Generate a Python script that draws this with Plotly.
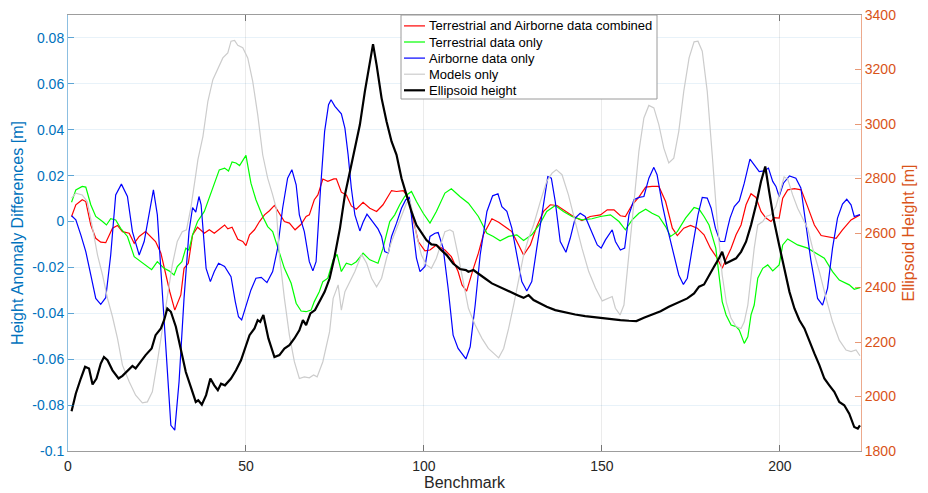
import plotly.graph_objects as go

# ---- Height anomaly differences along the benchmark line [m] ----
combined_x = [1.0, 2.2, 4.0, 5.0, 6.4, 7.8, 9.2, 10.6, 12.5, 13.9, 15.3, 17.2, 18.6, 20.0, 21.8, 23.2, 24.6,
              26.1, 27.5, 28.6, 30.0, 31.7, 32.6, 33.8, 35.0, 36.4, 38.3, 39.7, 41.1, 42.5, 44.0, 44.9, 46.1,
              47.7, 49.1, 50.0, 51.0, 52.4, 53.8, 55.2, 56.6, 58.0, 59.4, 60.8, 62.2, 63.8, 65.5, 66.9, 67.8,
              69.2, 70.2, 71.6, 73.0, 74.7, 75.4, 76.8, 78.2, 79.6, 81.0, 82.9, 84.8, 86.7, 88.5, 90.9, 92.3,
              94.2, 95.6, 97.0, 98.4, 100.3, 101.7, 103.5, 105.9, 107.7, 109.6, 110.7, 112.0, 113.9, 115.3,
              116.7, 119.1, 121.0, 122.8, 124.7, 126.6, 128.0, 129.9, 131.7, 133.6, 135.5, 137.4, 139.7, 142.0,
              144.4, 146.7, 149.6, 151.5, 153.4, 155.2, 156.6, 158.5, 160.4, 162.3, 164.1, 166.0, 167.9, 169.8,
              171.2, 173.0, 174.9, 176.8, 178.7, 180.5, 182.4, 183.8, 185.0, 186.3, 187.7, 189.1, 190.5, 191.9,
              193.3, 194.7, 196.1, 197.5, 198.4, 199.8, 200.8, 202.2, 204.1, 206.0, 207.8, 209.7, 211.6, 213.4,
              215.8, 217.6, 220.0, 222.5]
combined_y = [0.0022, 0.0073, 0.0095, 0.0087, -0.0015, -0.0073, -0.0090, -0.0092, -0.0029, -0.0017, -0.0044,
              -0.0051, -0.0095, -0.0065, -0.0044, -0.0065, -0.0087, -0.0138, -0.0240, -0.0306, -0.0386, -0.0320,
              -0.0204, -0.0182, -0.0058, -0.0025, -0.0051, -0.0036, -0.0051, -0.0033, -0.0015, -0.0032, -0.0025,
              -0.0077, -0.0087, -0.0105, -0.0058, -0.0036, 0.0000, 0.0029, 0.0047, 0.0070, 0.0036, 0.0000,
              -0.0007, -0.0036, -0.0012, 0.0022, 0.0029, 0.0095, 0.0116, 0.0185, 0.0175, 0.0186, 0.0186, 0.0128,
              0.0116, 0.0068, 0.0054, 0.0084, 0.0058, 0.0044, 0.0073, 0.0135, 0.0131, 0.0135, 0.0105, 0.0015,
              -0.0087, -0.0128, -0.0124, -0.0102, -0.0124, -0.0153, -0.0218, -0.0276, -0.0303, -0.0204, -0.0138,
              -0.0058, 0.0012, -0.0003, -0.0022, -0.0044, -0.0102, -0.0146, -0.0102, -0.0022, 0.0044, 0.0073,
              0.0070, 0.0044, 0.0022, 0.0004, 0.0022, 0.0029, 0.0051, 0.0051, 0.0025, 0.0022, 0.0073, 0.0106,
              0.0150, 0.0153, 0.0153, 0.0087, -0.0029, -0.0061, -0.0029, -0.0017, -0.0029, -0.0058, -0.0116,
              -0.0160, -0.0204, -0.0160, -0.0116, -0.0058, -0.0015, 0.0073, 0.0121, 0.0105, 0.0044, 0.0015,
              0.0000, 0.0017, 0.0015, 0.0102, 0.0138, 0.0143, 0.0138, 0.0065, -0.0015, -0.0061, -0.0065, -0.0073,
              -0.0036, 0.0007, 0.0029]

terrestrial_x = [1.0, 2.2, 4.0, 5.0, 6.4, 7.8, 9.7, 10.8, 12.0, 13.4, 14.8, 16.7, 18.6, 20.4, 22.3, 23.5, 25.1,
                 27.0, 28.4, 29.8, 30.7, 32.0, 33.1, 34.0, 35.0, 36.4, 38.3, 39.7, 41.1, 42.5, 44.0, 45.1, 46.1,
                 47.2, 48.2, 50.0, 51.4, 52.8, 54.7, 56.1, 57.5, 59.0, 60.8, 62.7, 64.1, 65.5, 66.9, 68.3, 69.2,
                 70.6, 71.6, 73.0, 74.5, 75.6, 76.8, 78.2, 79.6, 81.0, 82.9, 84.8, 87.1, 88.5, 90.4, 91.8, 93.2,
                 94.6, 96.5, 97.9, 99.8, 101.7, 103.5, 105.9, 107.7, 110.1, 112.5, 115.3, 117.7, 119.5, 121.4,
                 123.8, 126.1, 128.0, 130.3, 132.7, 134.5, 136.9, 139.2, 141.6, 144.4, 147.2, 149.6, 152.4, 154.8,
                 156.6, 158.5, 160.4, 162.3, 164.1, 166.0, 167.9, 169.3, 171.2, 173.5, 175.9, 177.3, 178.7, 180.1,
                 182.0, 183.8, 184.9, 186.3, 187.7, 188.6, 190.0, 191.0, 191.9, 192.8, 193.8, 195.2, 196.6, 198.0,
                 199.8, 200.8, 202.2, 205.0, 207.8, 210.1, 212.5, 214.8, 216.7, 219.5, 220.9, 222.5]
terrestrial_y = [0.0084, 0.0138, 0.0153, 0.0150, 0.0073, 0.0022, 0.0000, -0.0015, 0.0012, 0.0007, -0.0030,
                 -0.0065, -0.0153, -0.0175, -0.0196, -0.0210, -0.0175, -0.0204, -0.0215, -0.0233, -0.0196, -0.0175,
                 -0.0116, -0.0124, -0.0058, 0.0000, 0.0044, 0.0102, 0.0160, 0.0225, 0.0233, 0.0220, 0.0260, 0.0255,
                 0.0244, 0.0288, 0.0167, 0.0095, 0.0022, -0.0022, -0.0044, -0.0116, -0.0204, -0.0269, -0.0356,
                 -0.0390, -0.0393, -0.0386, -0.0349, -0.0306, -0.0262, -0.0247, -0.0167, -0.0143, -0.0218, -0.0182,
                 -0.0189, -0.0175, -0.0138, -0.0167, -0.0182, -0.0116, 0.0000, 0.0029, 0.0073, 0.0109, 0.0131,
                 0.0087, 0.0036, -0.0007, 0.0044, 0.0124, 0.0143, 0.0109, 0.0080, 0.0022, -0.0051, -0.0065, -0.0084,
                 -0.0065, -0.0058, -0.0083, -0.0058, -0.0007, 0.0044, 0.0070, 0.0044, 0.0022, 0.0007, 0.0012,
                 0.0022, 0.0029, 0.0000, -0.0036, 0.0007, 0.0036, 0.0054, 0.0036, 0.0022, -0.0022, -0.0065, -0.0044,
                 0.0015, 0.0061, 0.0054, 0.0022, -0.0015, -0.0116, -0.0349, -0.0407, -0.0451, -0.0458, -0.0473,
                 -0.0531, -0.0502, -0.0407, -0.0364, -0.0247, -0.0204, -0.0189, -0.0215, -0.0189, -0.0102, -0.0076,
                 -0.0102, -0.0116, -0.0138, -0.0160, -0.0218, -0.0255, -0.0276, -0.0295, -0.0288]

airborne_x = [1.0, 2.2, 3.6, 5.0, 6.4, 7.8, 9.2, 10.6, 12.0, 13.4, 15.0, 16.7, 18.1, 20.0, 21.4, 22.8, 24.0,
              25.1, 26.1, 27.5, 28.9, 30.0, 31.2, 32.6, 34.0, 35.0, 35.9, 36.8, 37.4, 38.8, 40.0, 41.1, 42.3,
              44.0, 45.8, 47.0, 47.9, 48.8, 50.0, 51.4, 52.8, 54.3, 55.9, 57.5, 58.9, 60.3, 61.7, 62.9, 64.1,
              65.0, 66.4, 67.8, 68.8, 69.7, 70.9, 72.1, 73.2, 73.9, 75.0, 76.8, 77.8, 78.7, 79.6, 80.6, 82.0,
              82.9, 84.0, 85.5, 87.1, 88.1, 89.0, 90.0, 90.9, 92.3, 93.7, 94.9, 95.9, 97.0, 97.9, 98.9, 100.3,
              101.7, 103.1, 104.0, 105.4, 106.8, 108.2, 109.6, 111.2, 111.8, 113.0, 114.4, 115.8, 117.7, 119.3,
              120.8, 121.9, 123.3, 124.7, 126.1, 127.5, 128.9, 130.3, 131.7, 133.6, 134.8, 135.8, 136.9, 138.3,
              139.9, 141.1, 142.5, 143.9, 145.3, 146.7, 147.6, 148.7, 149.8, 151.0, 152.9, 153.8, 155.2, 156.4,
              157.6, 159.0, 160.4, 161.8, 163.2, 164.6, 165.5, 167.0, 168.4, 170.2, 171.6, 172.9, 174.0, 175.4,
              177.0, 178.2, 179.6, 180.7, 181.9, 183.2, 184.5, 185.3, 186.0, 187.2, 188.6, 190.0, 191.6, 192.8,
              194.2, 195.6, 196.8, 198.0, 198.9, 199.8, 201.0, 202.7, 204.5, 205.9, 207.3, 208.7, 210.6, 212.0,
              213.4, 214.8, 216.2, 217.6, 218.8, 220.0, 220.9, 222.5]
airborne_y = [0.0025, 0.0007, -0.0058, -0.0131, -0.0233, -0.0335, -0.0361, -0.0332, -0.0146, 0.0116, 0.0163,
              0.0109, -0.0044, -0.0146, -0.0087, 0.0044, 0.0138, 0.0029, -0.0204, -0.0553, -0.0888, -0.0909,
              -0.0698, -0.0335, -0.0044, 0.0061, 0.0041, 0.0109, 0.0073, -0.0204, -0.0262, -0.0218, -0.0182,
              -0.0196, -0.0240, -0.0349, -0.0415, -0.0429, -0.0364, -0.0298, -0.0247, -0.0243, -0.0266, -0.0218,
              -0.0116, 0.0058, 0.0189, 0.0226, 0.0160, 0.0029, -0.0044, -0.0175, -0.0215, -0.0175, 0.0131,
              0.0393, 0.0509, 0.0531, 0.0502, 0.0469, 0.0407, 0.0291, 0.0146, 0.0029, -0.0041, -0.0003, 0.0032,
              0.0000, -0.0032, -0.0065, -0.0131, -0.0138, -0.0065, -0.0007, 0.0058, 0.0095, 0.0105, -0.0044,
              -0.0160, -0.0218, -0.0196, -0.0065, -0.0051, -0.0048, -0.0116, -0.0291, -0.0495, -0.0553, -0.0590,
              -0.0599, -0.0546, -0.0364, -0.0146, 0.0044, 0.0112, 0.0121, 0.0065, 0.0044, -0.0029, -0.0153,
              -0.0262, -0.0303, -0.0262, -0.0116, 0.0087, 0.0196, 0.0189, 0.0087, -0.0087, -0.0134, -0.0073,
              0.0015, 0.0036, 0.0022, -0.0029, -0.0060, -0.0102, -0.0116, -0.0080, -0.0036, -0.0087, -0.0124,
              -0.0116, 0.0029, 0.0095, 0.0105, 0.0109, 0.0189, 0.0236, 0.0204, 0.0073, -0.0029, -0.0146, -0.0233,
              -0.0274, -0.0247, -0.0116, 0.0029, 0.0105, 0.0102, 0.0058, -0.0029, -0.0087, -0.0087, -0.0030,
              0.0015, 0.0065, 0.0090, 0.0167, 0.0272, 0.0247, 0.0218, 0.0221, 0.0233, 0.0175, 0.0153, 0.0109,
              0.0167, 0.0199, 0.0189, 0.0146, 0.0000, -0.0167, -0.0335, -0.0364, -0.0291, -0.0116, 0.0015, 0.0076,
              0.0097, 0.0073, 0.0022, 0.0030]

models_x = [1.0, 2.2, 4.0, 5.4, 6.9, 8.3, 9.7, 11.1, 12.5, 13.9, 15.3, 17.2, 19.0, 20.9, 22.3, 23.7, 25.1, 26.5,
            27.9, 29.3, 30.7, 32.1, 33.3, 34.5, 35.9, 36.5, 37.9, 39.3, 40.7, 42.1, 43.5, 44.9, 45.8, 46.8, 47.7,
            49.1, 50.5, 51.9, 53.3, 54.7, 56.1, 57.5, 58.5, 59.4, 60.8, 62.2, 63.6, 65.0, 66.4, 67.8, 69.0, 70.0,
            71.6, 73.5, 74.5, 75.9, 76.8, 77.8, 79.2, 80.6, 82.5, 83.9, 85.3, 86.7, 88.1, 89.5, 90.9, 92.3, 93.7,
            95.1, 96.0, 97.0, 97.9, 99.3, 100.7, 102.1, 103.5, 104.9, 105.9, 107.3, 108.2, 109.6, 111.0, 112.5,
            114.4, 116.3, 118.1, 120.0, 121.0, 122.4, 123.8, 125.2, 126.6, 128.0, 129.4, 130.8, 132.7, 134.5,
            136.0, 137.2, 138.8, 140.6, 142.5, 144.4, 146.3, 148.2, 150.1, 151.5, 152.9, 153.8, 155.1, 156.2,
            157.6, 159.0, 160.4, 161.8, 163.2, 164.6, 166.0, 167.4, 168.8, 170.2, 171.6, 173.0, 174.5, 175.9,
            177.0, 178.2, 179.6, 181.0, 182.4, 183.8, 185.0, 186.3, 187.7, 189.1, 190.0, 191.0, 191.9, 192.8,
            193.8, 195.2, 196.1, 197.5, 198.9, 200.3, 201.2, 202.2, 203.6, 205.0, 206.4, 207.8, 209.2, 211.1,
            213.0, 214.8, 216.7, 218.6, 220.0, 221.4, 222.5]
models_y = [0.0102, 0.0124, 0.0116, 0.0087, -0.0029, -0.0146, -0.0233, -0.0335, -0.0415, -0.0509, -0.0626,
            -0.0698, -0.0757, -0.0790, -0.0786, -0.0742, -0.0611, -0.0466, -0.0335, -0.0189, -0.0087, -0.0044,
            -0.0036, 0.0058, 0.0204, 0.0270, 0.0370, 0.0524, 0.0618, 0.0669, 0.0713, 0.0735, 0.0786, 0.0789,
            0.0768, 0.0757, 0.0713, 0.0611, 0.0466, 0.0291, 0.0189, 0.0116, 0.0058, -0.0146, -0.0335, -0.0495,
            -0.0611, -0.0684, -0.0677, -0.0681, -0.0669, -0.0677, -0.0611, -0.0480, -0.0335, -0.0276, -0.0386,
            -0.0306, -0.0262, -0.0218, -0.0143, -0.0182, -0.0247, -0.0284, -0.0247, -0.0160, -0.0087, -0.0029,
            0.0029, 0.0080, 0.0095, 0.0029, -0.0058, -0.0146, -0.0189, -0.0204, -0.0160, -0.0087, -0.0044,
            -0.0036, -0.0044, -0.0146, -0.0262, -0.0378, -0.0451, -0.0509, -0.0553, -0.0582, -0.0594, -0.0553,
            -0.0466, -0.0364, -0.0247, -0.0146, -0.0073, -0.0015, 0.0087, 0.0175, 0.0211, 0.0226, 0.0204, 0.0116,
            0.0000, -0.0116, -0.0218, -0.0290, -0.0346, -0.0338, -0.0327, -0.0378, -0.0407, -0.0364, -0.0146,
            0.0102, 0.0306, 0.0451, 0.0506, 0.0495, 0.0422, 0.0320, 0.0255, 0.0276, 0.0393, 0.0567, 0.0713,
            0.0783, 0.0786, 0.0742, 0.0567, 0.0291, 0.0000, -0.0233, -0.0355, -0.0422, -0.0458, -0.0466, -0.0437,
            -0.0364, -0.0247, -0.0116, -0.0015, 0.0000, 0.0022, 0.0029, 0.0065, 0.0138, 0.0194, 0.0185, 0.0116,
            0.0058, 0.0015, -0.0029, -0.0116, -0.0218, -0.0335, -0.0437, -0.0517, -0.0560, -0.0567, -0.0560,
            -0.0585]

# ---- Ellipsoid height of the benchmarks [m] ----
height_x = [1.0, 2.2, 3.6, 4.8, 5.9, 6.9, 8.0, 9.2, 10.1, 11.1, 12.5, 14.2, 15.3, 16.7, 18.1, 19.0, 20.4, 21.8,
            23.5, 24.6, 26.1, 27.0, 27.9, 28.9, 30.3, 31.7, 33.1, 34.5, 35.9, 36.6, 37.6, 38.8, 40.0, 41.1, 42.1,
            43.0, 44.1, 45.8, 47.2, 48.6, 50.0, 51.0, 52.4, 53.3, 54.0, 54.9, 56.3, 58.0, 59.4, 60.8, 62.2, 63.6,
            65.0, 66.0, 66.9, 68.1, 69.4, 70.7, 72.1, 73.5, 74.8, 76.4, 77.8, 79.2, 80.6, 82.0, 83.4, 84.6, 85.7,
            86.7, 88.1, 89.5, 90.9, 92.3, 93.7, 95.1, 96.5, 97.9, 99.3, 100.7, 102.1, 103.5, 104.9, 106.4, 108.2,
            110.1, 111.8, 112.5, 113.9, 115.3, 117.2, 119.1, 121.0, 122.8, 124.7, 126.6, 128.0, 129.4, 130.8,
            132.7, 134.5, 136.9, 139.7, 142.5, 145.3, 148.9, 151.5, 155.2, 157.6, 159.7, 161.8, 164.1, 166.5,
            168.8, 170.2, 172.1, 174.0, 175.9, 177.3, 178.7, 180.1, 181.5, 182.9, 183.8, 184.8, 186.3, 187.7,
            189.1, 190.5, 191.9, 193.3, 194.7, 195.9, 197.0, 198.4, 199.8, 201.2, 202.7, 204.1, 205.5, 206.9,
            208.3, 209.7, 211.1, 212.5, 213.9, 215.3, 216.7, 218.1, 219.5, 220.9, 221.9, 222.5]
height_y = [1946, 2011, 2066, 2109, 2103, 2044, 2066, 2121, 2145, 2133, 2096, 2066, 2076, 2096, 2112, 2103, 2127,
            2152, 2176, 2225, 2250, 2280, 2323, 2311, 2256, 2176, 2090, 2035, 1980, 1986, 1970, 2005, 2066, 2041,
            2023, 2047, 2041, 2066, 2096, 2133, 2188, 2225, 2250, 2280, 2274, 2299, 2213, 2145, 2152, 2176, 2188,
            2213, 2243, 2280, 2262, 2305, 2317, 2348, 2384, 2433, 2507, 2617, 2740, 2825, 2911, 2997, 3119, 3217,
            3293, 3217, 3095, 3009, 2936, 2887, 2801, 2740, 2678, 2629, 2599, 2574, 2558, 2556, 2537, 2519, 2488,
            2468, 2464, 2458, 2464, 2452, 2433, 2415, 2403, 2394, 2381, 2370, 2362, 2372, 2354, 2341, 2329, 2317,
            2308, 2301, 2295, 2289, 2284, 2280, 2278, 2277, 2289, 2301, 2313, 2329, 2338, 2348, 2360, 2378, 2403,
            2411, 2446, 2476, 2507, 2531, 2488, 2497, 2507, 2531, 2568, 2629, 2703, 2789, 2844, 2752, 2642, 2556,
            2470, 2384, 2323, 2280, 2250, 2201, 2158, 2115, 2066, 2041, 2017, 1980, 1968, 1937, 1888, 1882, 1894]

# ---- axis ticks ----
x_ticks = [0, 50, 100, 150, 200]
left_ticks = [-0.1, -0.08, -0.06, -0.04, -0.02, 0, 0.02, 0.04, 0.06, 0.08]
left_tick_text = ["-0.1", "-0.08", "-0.06", "-0.04", "-0.02", "0", "0.02", "0.04", "0.06", "0.08"]
right_ticks = [1800, 2000, 2200, 2400, 2600, 2800, 3000, 3200, 3400]

FONT = "Liberation Sans, Arial, Helvetica, sans-serif"
BLUE_AX = "#0072BD"
ORANGE_AX = "#D95319"
DARK = "#262626"

W, H = 928, 493
M_L, M_R, M_T, M_B = 68, 67, 15, 42
PLOT_W = W - M_L - M_R
PLOT_H = H - M_T - M_B

fig = go.Figure()
series = [
    ("Terrestrial and Airborne data combined", combined_x, combined_y, "#FF0000", 1.2, "y"),
    ("Terrestrial data only", terrestrial_x, terrestrial_y, "#00FF00", 1.2, "y"),
    ("Airborne data only", airborne_x, airborne_y, "#0000FF", 1.2, "y"),
    ("Models only", models_x, models_y, "#CCCCCC", 1.2, "y"),
    ("Ellipsoid height", height_x, height_y, "#000000", 2.2, "y2"),
]
for name, xs, ys, col, lw, ax in series:
    fig.add_trace(go.Scatter(x=xs, y=ys, name=name, mode="lines", showlegend=False,
                             line=dict(color=col, width=lw), yaxis=ax))


# Boxed legend in the upper middle of the axes (compact MATLAB-style rows)
def px_to_paper_x(px):
    return (px - M_L) / PLOT_W


def px_to_paper_y(py):
    return 1 - (py - M_T) / PLOT_H


box_left, box_right, box_top, box_bottom = 401, 657, 15, 99
row_gap = 16.1
first_row = 25.9
shapes = [dict(type="rect", xref="paper", yref="paper", layer="above",
               x0=px_to_paper_x(box_left), x1=px_to_paper_x(box_right),
               y0=px_to_paper_y(box_bottom), y1=px_to_paper_y(box_top),
               fillcolor="white", line=dict(color="#9a9a9a", width=1))]
annotations = []
for i, (name, _, _, col, lw, _) in enumerate(series):
    yc = px_to_paper_y(first_row + i * row_gap)
    shapes.append(dict(type="line", xref="paper", yref="paper", layer="above",
                       x0=px_to_paper_x(404), x1=px_to_paper_x(425), y0=yc, y1=yc,
                       line=dict(color=col, width=lw)))
    annotations.append(dict(xref="paper", yref="paper", x=px_to_paper_x(427), y=yc,
                            xanchor="left", yanchor="middle", showarrow=False, text=name,
                            font=dict(size=13, color="#000000", family=FONT)))

fig.update_layout(
    width=W, height=H,
    margin=dict(l=M_L, r=M_R, t=M_T, b=M_B, autoexpand=False),
    paper_bgcolor="white", plot_bgcolor="white",
    font=dict(family=FONT, size=14, color=DARK),
    shapes=shapes, annotations=annotations,
    xaxis=dict(
        range=[0, 222.8], tickvals=x_ticks, ticks="inside", ticklen=6, tickwidth=1,
        tickcolor="rgba(38,38,38,0.6)",
        showline=True, linecolor="rgba(38,38,38,0.45)", linewidth=1, mirror="ticks",
        showgrid=True, gridcolor="rgba(38,38,38,0.09)", gridwidth=1, zeroline=False,
        tickfont=dict(size=14, color=DARK), ticklabelstandoff=2,
        title=dict(text="Benchmark", font=dict(size=16, color=DARK), standoff=4),
    ),
    yaxis=dict(
        range=[-0.1, 0.09], tickvals=left_ticks, ticktext=left_tick_text,
        ticks="inside", ticklen=6, tickwidth=1, tickcolor="rgba(0,114,189,0.6)",
        showline=True, linecolor="rgba(0,114,189,0.45)", linewidth=1,
        showgrid=True, gridcolor="rgba(0,114,189,0.09)", gridwidth=1, zeroline=False,
        tickfont=dict(size=14, color=BLUE_AX),
        title=dict(text="Height Anomaly Differences [m]", font=dict(size=16, color=BLUE_AX), standoff=4),
    ),
    yaxis2=dict(
        overlaying="y", side="right", range=[1800, 3400], tickvals=right_ticks,
        ticks="inside", ticklen=6, tickwidth=1, tickcolor="rgba(217,83,25,0.6)",
        showline=True, linecolor="rgba(217,83,25,0.5)", linewidth=1,
        showgrid=False, zeroline=False,
        tickfont=dict(size=14, color=ORANGE_AX),
        title=dict(text="Ellipsoid Height [m]", font=dict(size=16, color=ORANGE_AX), standoff=7),
    ),
)

fig.write_html("out.html")
